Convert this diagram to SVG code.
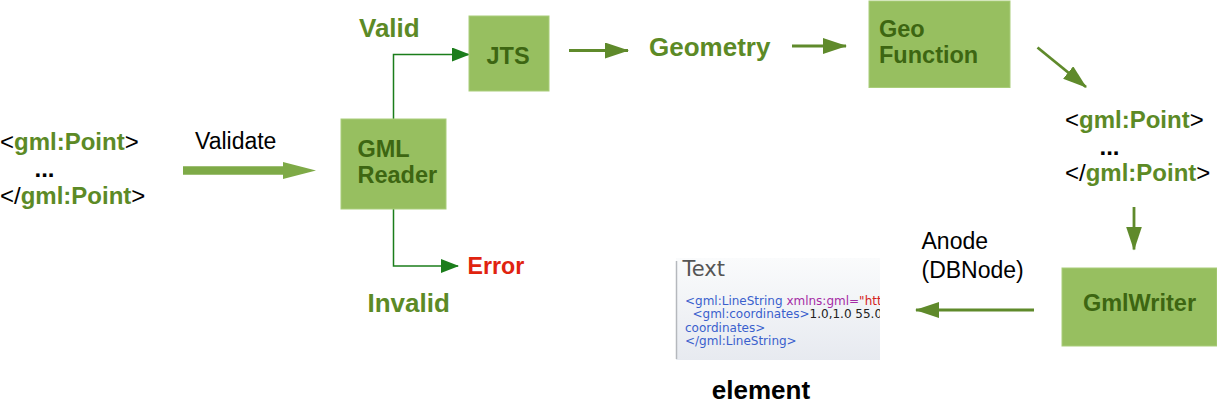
<svg xmlns="http://www.w3.org/2000/svg" width="1217" height="406" viewBox="0 0 1217 406">
<style>
.box{fill:#97bf60;stroke:#a9cd7a;stroke-width:1}
.bt{font-family:"Liberation Sans",Arial,sans-serif;font-weight:bold;font-size:23.5px;fill:#3d6612}
.lbl{font-family:"Liberation Sans",Arial,sans-serif;font-weight:bold;font-size:26px;fill:#5c8a26}
.reg{font-family:"Liberation Sans",Arial,sans-serif;font-size:23px;fill:#000}
.xml{font-family:"Liberation Sans",Arial,sans-serif;font-size:24px;fill:#000}
.g{font-weight:bold;fill:#5c8a26}
.arr{stroke:#5f8a2b;stroke-width:2.8;fill:none}
.thin{stroke:#1b7d1b;stroke-width:1.5;fill:none}
.code{font-family:"DejaVu Sans",Verdana,sans-serif;font-size:12px;fill:#3a5fcd}
</style>
<defs>
<marker id="ah" viewBox="0 0 24 16" refX="23" refY="8" markerUnits="userSpaceOnUse" markerWidth="24" markerHeight="16" orient="auto">
<path d="M0,0 L24,8 L0,16 Z" fill="#5f8a2b"/>
</marker>
<marker id="ht" viewBox="0 0 18 14" refX="17" refY="7" markerUnits="userSpaceOnUse" markerWidth="18" markerHeight="14" orient="auto">
<path d="M0,0 L18,7 L0,14 Z" fill="#1b7d1b"/>
</marker>
<linearGradient id="pg" x1="0" y1="0" x2="0" y2="1">
<stop offset="0" stop-color="#fafbfc"/>
<stop offset="1" stop-color="#e7eaf0"/>
</linearGradient>
<clipPath id="pc"><rect x="676" y="258" width="204" height="102"/></clipPath>
</defs>

<g id="connectors">
<path d="M183,170.5 L284,170.5" stroke="#7eaa47" stroke-width="8.5" fill="none"/>
<path d="M283,162 L316,170.5 L283,179 Z" fill="#7eaa47"/>
<path class="thin" d="M393.5,119 L393.5,54.5 L469,54.5" marker-end="url(#ht)"/>
<path class="thin" d="M393.5,209 L393.5,266 L458,266" marker-end="url(#ht)"/>
<path class="arr" d="M569,50.5 L628,50.5" marker-end="url(#ah)"/>
<path class="arr" d="M792,46 L846,46" marker-end="url(#ah)"/>
<path class="arr" d="M1037.5,47.5 L1086,87" marker-end="url(#ah)"/>
<path class="arr" d="M1134,207 L1134,249.5" marker-end="url(#ah)"/>
<path class="arr" d="M1034,310 L916,310" marker-end="url(#ah)"/>
</g>

<g id="input">
<text class="xml" x="0" y="150">&lt;<tspan class="g">gml:Point</tspan>&gt;</text>
<text class="xml" x="34.5" y="177" font-weight="bold">...</text>
<text class="xml" x="0" y="204">&lt;/<tspan class="g">gml:Point</tspan>&gt;</text>
</g>
<text class="reg" x="195" y="149" font-size="22.6px">Validate</text>

<g id="gmlreader">
<rect class="box" x="341" y="119" width="105" height="90"/>
<text class="bt" x="357.5" y="157">GML</text>
<text class="bt" x="357.5" y="183">Reader</text>
</g>
<text class="lbl" x="359" y="37">Valid</text>
<text class="lbl" x="367.5" y="312">Invalid</text>
<text id="error" x="467.5" y="274" font-family="'Liberation Sans',Arial,sans-serif" font-weight="bold" font-size="23.2px" fill="#e0230f">Error</text>

<g id="jts">
<rect class="box" x="469" y="16" width="80" height="75"/>
<text class="bt" x="486.5" y="63.5" font-size="23.2px">JTS</text>
</g>

<text id="geometry" class="lbl" x="649" y="56">Geometry</text>

<g id="geofunction">
<rect class="box" x="869" y="1" width="141" height="86.5"/>
<text class="bt" x="879" y="37">Geo</text>
<text class="bt" x="879" y="63">Function</text>
</g>

<g id="output">
<text class="xml" x="1065" y="128">&lt;<tspan class="g">gml:Point</tspan>&gt;</text>
<text class="xml" x="1099.5" y="155" font-weight="bold">...</text>
<text class="xml" x="1065" y="181">&lt;/<tspan class="g">gml:Point</tspan>&gt;</text>
</g>

<g id="gmlwriter">
<rect class="box" x="1062" y="268" width="155" height="78"/>
<text class="bt" x="1139.5" y="311" text-anchor="middle" font-size="23.2px">GmlWriter</text>
</g>

<text class="reg" x="921.5" y="249" font-size="23.5px">Anode</text>
<text class="reg" x="921.5" y="278" font-size="23.5px">(DBNode)</text>

<g id="textpanel">
<rect x="676" y="258" width="204" height="102" fill="url(#pg)"/>
<line x1="676.5" y1="261" x2="676.5" y2="359" stroke="#b5b8bd" stroke-width="1.5"/>
<g clip-path="url(#pc)">
<text x="682.5" y="276" font-family="'DejaVu Sans',Verdana,sans-serif" font-size="21px" fill="#555">Text</text>
<text class="code" x="685" y="304.5">&lt;gml:LineString<tspan fill="#a52ba5"> xmlns:gml=</tspan><tspan fill="#d42020">"http://www.opengis.net/gml"&gt;</tspan></text>
<text class="code" x="692.5" y="318">&lt;gml:coordinates&gt;<tspan fill="#222">1.0,1.0 55.0,55.0 &lt;/gml:</tspan></text>
<text class="code" x="685" y="331.5">coordinates&gt;</text>
<text class="code" x="685" y="345">&lt;/gml:LineString&gt;</text>
</g>
</g>

<text id="element" x="761" y="399" text-anchor="middle" font-family="'Liberation Sans',Arial,sans-serif" font-weight="bold" font-size="26px" fill="#000">element</text>
</svg>
